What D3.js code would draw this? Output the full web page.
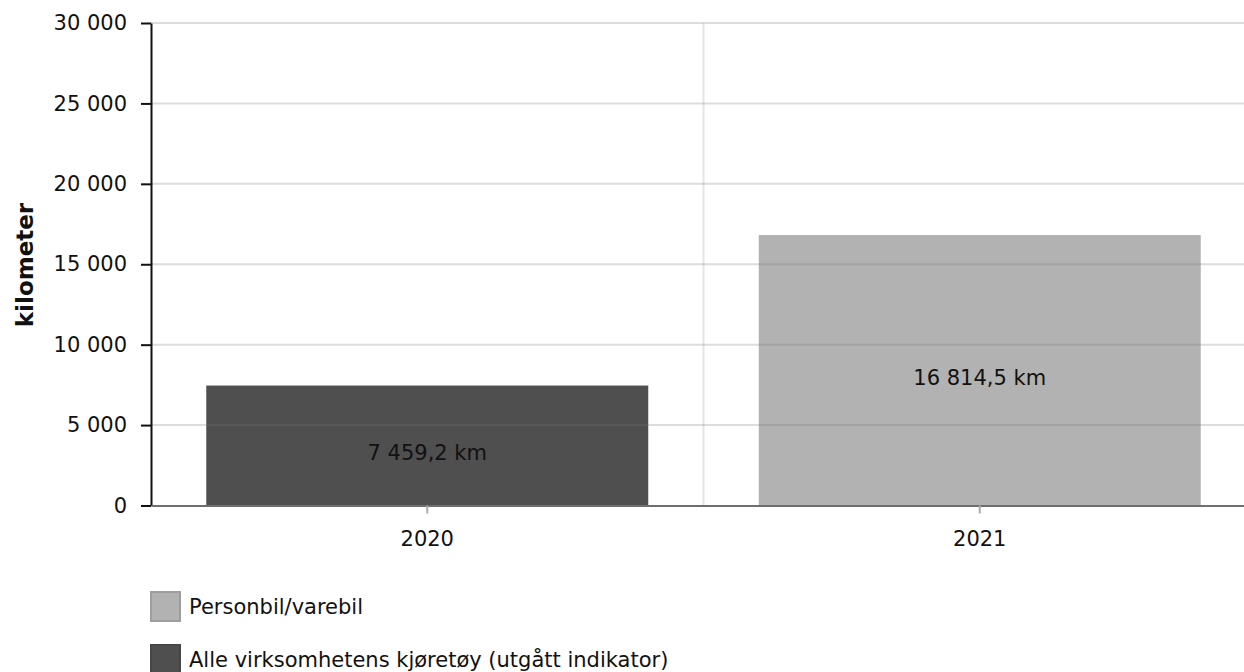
<!DOCTYPE html>
<html><head><meta charset="utf-8">
<script src="https://cdn.jsdelivr.net/npm/d3@7"></script>
<style>body{margin:0;background:#fff}svg{display:block;font-family:"DejaVu Sans",Verdana,sans-serif}</style>
</head><body><svg id="c" width="1244" height="672"></svg>
<script>
const categories = ["2020", "2021"];
const values = [7459.2, 16814.5];
const valueLabels = ["7 459,2 km", "16 814,5 km"];
const barColors = ["#4f4f4f", "#b2b2b2"];
const yTicks = [0, 5000, 10000, 15000, 20000, 25000, 30000];
const legendNames = ["Personbil/varebil", "Alle virksomhetens kjøretøy (utgått indikator)"];
const legendColors = ["#b2b2b2", "#4f4f4f"];

const svg = d3.select("#c");
const pL = 151, pR = 1256, pT = 23, pB = 505.5;
const x = d3.scaleBand().domain(categories).range([pL, pR]).paddingInner(0.2).paddingOuter(0.1);
const xb = d3.scaleBand().domain(categories).range([pL, pR]);
const y = d3.scaleLinear().domain([0, 30000]).range([pB, pT]);
const fmt = v => d3.format(",")(v).replace(/,/g, " ");

// bars
svg.append("g").selectAll("rect").data(categories).join("rect")
  .attr("x", d => x(d)).attr("width", x.bandwidth())
  .attr("y", (d, i) => y(values[i])).attr("height", (d, i) => y(0) - y(values[i]))
  .attr("fill", (d, i) => barColors[i]);

// gridlines on top
const grid = svg.append("g");
grid.selectAll("line.h").data(yTicks.slice(1)).join("line")
  .attr("x1", pL).attr("x2", pR).attr("y1", d => y(d)).attr("y2", d => y(d))
  .attr("stroke", "#777").attr("stroke-opacity", 0.25).attr("stroke-width", 2);
grid.selectAll("line.v").data(categories.slice(1)).join("line")
  .attr("x1", d => xb(d)).attr("x2", d => xb(d)).attr("y1", pT).attr("y2", pB)
  .attr("stroke", "#777").attr("stroke-opacity", 0.2).attr("stroke-width", 2);

// value labels
svg.append("g").selectAll("text").data(categories).join("text")
  .attr("x", d => x(d) + x.bandwidth() / 2)
  .attr("y", (d, i) => (y(values[i]) + y(0)) / 2 + 14.5)
  .attr("text-anchor", "middle").attr("font-size", 21).attr("fill", "#111")
  .text((d, i) => valueLabels[i]);

// y axis
const ya = svg.append("g").attr("transform", `translate(${pL},0)`)
  .call(d3.axisLeft(y).tickValues(yTicks).tickFormat(fmt).tickSize(10).tickPadding(14).tickSizeOuter(0));
ya.select(".domain").attr("stroke", "#111").attr("stroke-width", 2);
ya.selectAll(".tick line").attr("stroke", "#111").attr("stroke-width", 2);
ya.selectAll("text").attr("font-size", 21).attr("fill", "#111").attr("font-family", "DejaVu Sans");

// x axis
const xa = svg.append("g").attr("transform", `translate(0,${pB})`)
  .call(d3.axisBottom(x).tickSize(8).tickPadding(18).tickSizeOuter(0));
xa.select(".domain").attr("stroke", "#6e6e6e").attr("stroke-width", 2);
xa.selectAll(".tick line").attr("stroke", "#aaa").attr("stroke-width", 2);
xa.selectAll("text").attr("font-size", 21).attr("fill", "#111").attr("font-family", "DejaVu Sans");

// y title
svg.append("text").attr("transform", "translate(33,265) rotate(-90)")
  .attr("text-anchor", "middle").attr("font-size", 23).attr("font-weight", "bold").attr("fill", "#111")
  .text("kilometer");

// legend
const lg = svg.append("g").selectAll("g").data(legendNames).join("g")
  .attr("transform", (d, i) => `translate(150,${591 + i * 53})`);
lg.append("rect").attr("width", 29).attr("height", 29).attr("x", 1).attr("y", 1)
  .attr("fill", (d, i) => legendColors[i]).attr("stroke", (d, i) => d3.color(legendColors[i]).darker(0.35)).attr("stroke-width", 2);
lg.append("text").attr("x", 39).attr("y", 23).attr("font-size", 21).attr("fill", "#111").text(d => d);
</script></body></html>
